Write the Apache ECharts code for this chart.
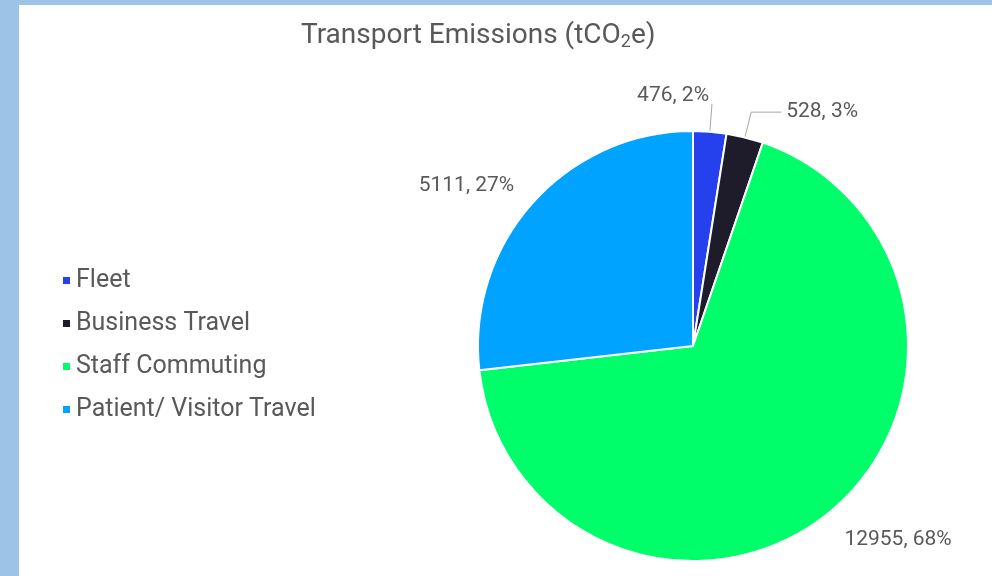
<!DOCTYPE html>
<html>
<head>
<meta charset="utf-8">
<script src="https://cdn.jsdelivr.net/npm/echarts@6/dist/echarts.min.js"></script>
<style>
  html, body { margin: 0; padding: 0; background: #9dc3e6; }
  #chart { position: absolute; left: 19px; top: 5px; width: 973px; height: 571px; background: #ffffff; }
</style>
</head>
<body>
<div id="chart"></div>
<script>
const categories = ['Fleet', 'Business Travel', 'Staff Commuting', 'Patient/ Visitor Travel'];
const values = [476, 528, 12955, 5111];
const colors = ['#2541ee', '#1e1b2a', '#00fe6b', '#00a3ff'];

const total = values.reduce((a, b) => a + b, 0);

// leader line lengths per slice [radial, horizontal]
const lineLen = [[28, 0], [26, 30], [30, 0], [26, 0]];

const chart = echarts.init(document.getElementById('chart'));

const option = {
    textStyle: { fontFamily: 'Roboto' },
    title: {
        text: 'Transport Emissions (tCO{sub|2}e)',
        left: 277,
        top: 11,
        textStyle: {
            fontSize: 28,
            fontWeight: 'normal',
            color: '#595959',
            fontFamily: 'Roboto',
            rich: {
                sub: { fontSize: 18, color: '#595959', padding: [12, 0, 0, 0], fontFamily: 'Roboto' }
            }
        }
    },
    legend: {
        orient: 'vertical',
        left: 37,
        top: 258,
        itemWidth: 9,
        itemHeight: 9,
        itemGap: 18,
        icon: 'rect',
        textStyle: { fontSize: 25, color: '#595959', fontFamily: 'Roboto' },
        data: categories
    },
    series: [
        {
            name: 'Transport Emissions',
            type: 'pie',
            center: [674, 341],
            radius: 215,
            startAngle: 90,
            clockwise: true,
            avoidLabelOverlap: false,
            itemStyle: { borderColor: '#ffffff', borderWidth: 2 },
            label: {
                show: true,
                position: 'outside',
                fontSize: 21,
                color: '#595959',
                fontFamily: 'Roboto',
                formatter: p => p.value + ', ' + Math.round(p.value / total * 100) + '%'
            },
            labelLine: { show: true, lineStyle: { color: '#a6a6a6', width: 1 } },
            labelLayout: p => {
                if (p.dataIndex === 0) return { align: 'right', dx: -8, dy: -8 };
                if (p.dataIndex === 2) return { dx: -7, dy: 3 };
                if (p.dataIndex === 3) return { dx: 6 };
                return {};
            },
            data: categories.map((name, i) => ({
                name: name,
                value: values[i],
                itemStyle: { color: colors[i] },
                labelLine: { show: i < 2, length: lineLen[i][0], length2: lineLen[i][1] }
            }))
        }
    ]
};

chart.setOption(option);
</script>
</body>
</html>
